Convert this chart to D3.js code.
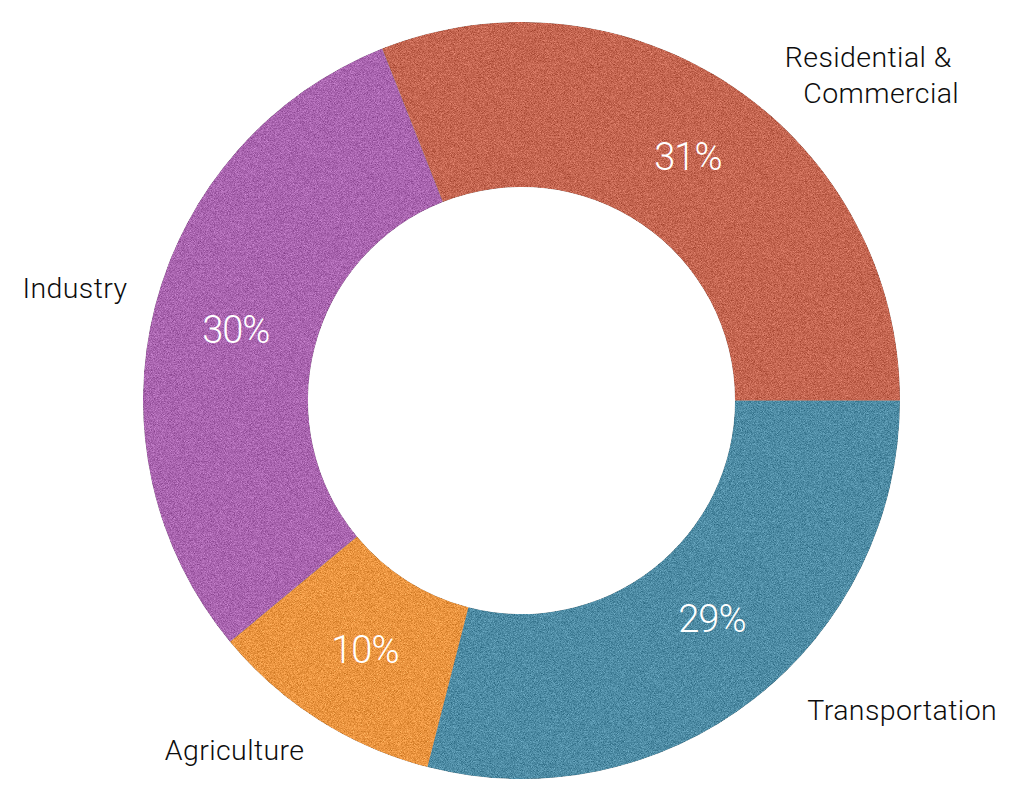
<!DOCTYPE html>
<html>
<head>
<meta charset="utf-8">
<script src="https://cdn.jsdelivr.net/npm/d3@7"></script>
<style>
  html, body { margin: 0; padding: 0; background: #fff; }
  svg { display: block; }
</style>
</head>
<body>
<svg id="chart" width="1029" height="808"></svg>
<script>
// data, clockwise starting at 3 o'clock
const categories = ["Transportation", "Agriculture", "Industry", "Residential & Commercial"];
const shares = [29, 10, 30, 31];
const colors = ["#4b89a2", "#e8923d", "#a762ad", "#c2634e"];

// label lines (the long one wraps)
const labelLines = [["Transportation"], ["Agriculture"], ["Industry"], ["Residential &", "Commercial"]];

// small nudges for the outside labels: angle shift (deg), radius, extra x/y
const labelNudge = {
  "Transportation": {da: -13, r: 490, dx: 5, dy: 0},
  "Agriculture": {da: 7, r: 452, dx: 4, dy: 0},
  "Industry": {da: 0, r: 460, dx: 3, dy: 2},
  "Residential & Commercial": {da: 13, r: 478, dx: 0, dy: -1}
};
// nudges for the percentage labels off the centroid
const pctNudge = {
  "Transportation": [9, -16],
  "Agriculture": [2, -1],
  "Industry": [1, 2],
  "Residential & Commercial": [0, 1]
};

const ctx = {w: 1029, h: 808, cx: 521.5, cy: 400.5, outerR: 378.5, innerR: 213.5};

let svg = d3.select("#chart");

// grainy paper texture
let defs = svg.append("defs");
let filt = defs.append("filter").attr("id", "grain")
  .attr("filterUnits", "userSpaceOnUse")
  .attr("x", 0).attr("y", 0).attr("width", ctx.w).attr("height", ctx.h)
  .attr("color-interpolation-filters", "sRGB");
filt.append("feTurbulence").attr("type", "fractalNoise").attr("baseFrequency", 1.3)
  .attr("numOctaves", 2).attr("seed", 7).attr("result", "noise");
filt.append("feColorMatrix").attr("in", "noise").attr("type", "matrix")
  .attr("values", "1 0 0 0 0  1 0 0 0 0  1 0 0 0 0  0 0 0 0 1").attr("result", "gray");
filt.append("feComposite").attr("in", "SourceGraphic").attr("in2", "gray")
  .attr("operator", "arithmetic").attr("k1", 0).attr("k2", 1).attr("k3", 0.45).attr("k4", -0.215)
  .attr("result", "mixed");
filt.append("feComposite").attr("in", "mixed").attr("in2", "SourceAlpha").attr("operator", "in");

let pie = d3.pie().sort(null).value(d => d.value)
  .startAngle(Math.PI / 2).endAngle(Math.PI / 2 + 2 * Math.PI);

let entries = categories.map((c, i) => ({name: c, value: shares[i], color: colors[i], lines: labelLines[i]}));
let arcs = pie(entries);

let arc = d3.arc().innerRadius(ctx.innerR).outerRadius(ctx.outerR);

// ring, drawn in page coordinates so the filter region covers it all
svg.append("g").attr("filter", "url(#grain)")
  .append("g").attr("transform", `translate(${ctx.cx},${ctx.cy})`)
  .selectAll("path")
  .data(arcs)
  .enter()
  .append("path")
  .attr("d", arc)
  .attr("fill", d => d.data.color);

let g = svg.append("g").attr("transform", `translate(${ctx.cx},${ctx.cy})`);

// percentages in the ring
g.selectAll("text.pct")
  .data(arcs)
  .enter()
  .append("text")
  .classed("pct", true)
  .attr("transform", d => {
    let [x, y] = arc.centroid(d), n = pctNudge[d.data.name];
    return `translate(${x + n[0]},${y + n[1]})`;
  })
  .attr("dy", "0.36em")
  .style("text-anchor", "middle")
  .style("font-family", "Roboto, 'Open Sans', sans-serif")
  .style("font-weight", 300)
  .style("font-size", "38px")
  .style("letter-spacing", "-1px")
  .attr("fill", "#fff")
  .text(d => d.data.value + "%");

// outside labels
let lineH = 36;
let labels = g.selectAll("text.lbl")
  .data(arcs)
  .enter()
  .append("text")
  .classed("lbl", true)
  .attr("transform", d => {
    let n = labelNudge[d.data.name];
    let a = (d.startAngle + d.endAngle) / 2 + n.da * Math.PI / 180;
    return `translate(${n.r * Math.sin(a) + n.dx},${-n.r * Math.cos(a) + n.dy})`;
  })
  .style("text-anchor", "middle")
  .style("font-family", "Roboto, 'Open Sans', sans-serif")
  .style("font-weight", 300)
  .style("font-size", "28.5px")
  .style("letter-spacing", "0.4px")
  .attr("fill", "#0d0d0d");

labels.each(function(d) {
  let t = d3.select(this);
  let k = d.data.lines.length;
  d.data.lines.forEach((line, i) => {
    t.append("tspan")
      .attr("x", i === 0 ? -4 : 9)
      .attr("y", (i - (k - 1) / 2) * lineH)
      .attr("dy", "0.36em")
      .text(line);
  });
});
</script>
</body>
</html>
